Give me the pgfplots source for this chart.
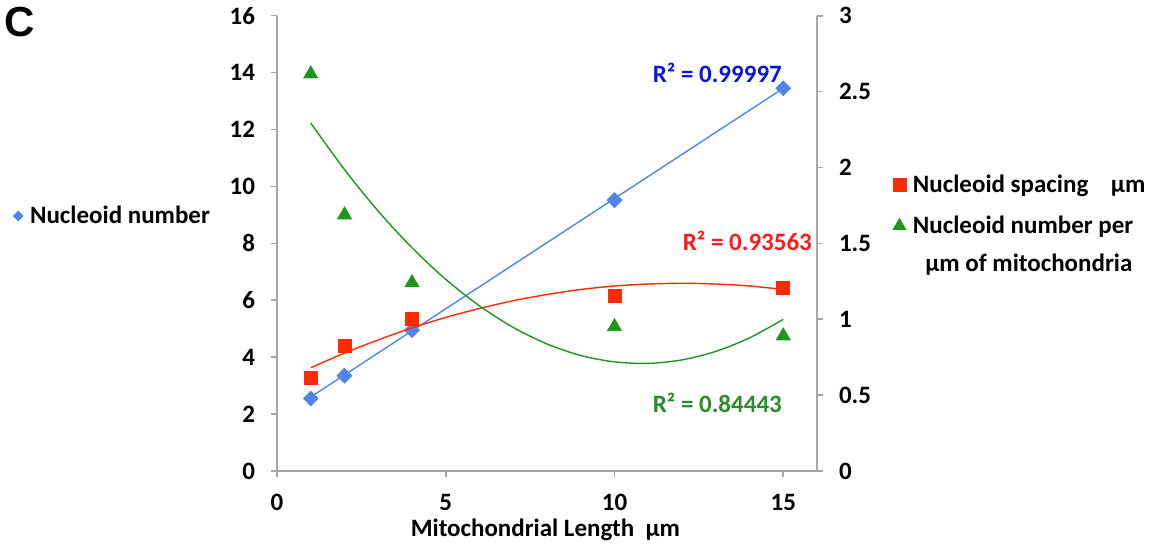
\documentclass[border=0pt]{standalone}
\usepackage{pgfplots}
\pgfplotsset{compat=1.18}
\usepackage{fontspec}
\setmainfont{Carlito}
\newfontfamily\arialfont{Liberation Sans}

\definecolor{nblue}{HTML}{4F86EC}
\definecolor{nred}{HTML}{FF2A00}
\definecolor{ngreen}{HTML}{1E961E}
\definecolor{axgray}{HTML}{A6A6A6}
\definecolor{rblue}{HTML}{0A14E0}
\definecolor{rred}{HTML}{FF1A1A}
\definecolor{rgreen}{HTML}{2A8C2A}

\pgfplotsset{
  base/.style={
    at={(0,0)}, anchor=south west, scale only axis,
    width=270pt, height=227.65pt,
    xmin=0, xmax=16, clip=false,
    axis line style={axgray, line width=0.8pt},
    tick style={axgray, line width=0.8pt},
    tick align=outside, major tick length=3pt,
    font=\fontsize{12.5}{15}\selectfont\bfseries,
    /pgf/number format/assume math mode=true,
    legend cell align=left,
    legend style={draw=none, fill=none, inner sep=0pt, outer sep=0pt,
      column sep=3.5pt, row sep=10pt,
      nodes={inner sep=0pt},
      font=\fontsize{12.5}{15}\selectfont\bfseries},
    legend image code/.code={\draw[#1] plot coordinates {(0pt,0pt)};},
  },
}

\begin{document}
\begin{tikzpicture}
\path[use as bounding box] (-138.5pt,-37.5pt) rectangle (437.5pt,235.5pt);

% left axis: nucleoid number
\begin{axis}[base,
  ymin=0, ymax=16, ytick={0,2,4,6,8,10,12,14,16},
  xtick={0,5,10,15},
  axis y line*=left, axis x line*=bottom,
  yticklabel style={xshift=-4.5pt},
  xticklabel style={yshift=-5pt},
  xlabel={Mitochondrial Length\ \ µm},
  xlabel style={at={(axis description cs:0.497,0)}, anchor=center, yshift=-29.5pt},
  legend style={at={(-0.488,0.56)}, anchor=west},
]
\addplot[only marks, mark=square*, mark size=2.6pt,
  mark options={rotate=45, fill=nblue, draw=nblue},
  legend image post style={mark size=1.7pt}]
  coordinates {(1,2.55) (2,3.35) (4,4.95) (10,9.52) (15,13.45)};
\addlegendentry{Nucleoid number}
\addplot[nblue, line width=0.7pt, forget plot] coordinates {(1,2.6) (15,13.45)};
\node[rblue, anchor=east, inner sep=0pt] at (axis cs:14.97,13.98) {R² = 0.99997};
\node[anchor=west, inner sep=0pt, font=\fontsize{21}{21}\selectfont\arialfont\bfseries]
  at (axis cs:-8.1,15.78) {C};
\end{axis}

% right axis: spacing and number per um
\begin{axis}[base,
  ymin=0, ymax=3, ytick={0,0.5,1,1.5,2,2.5,3},
  axis y line*=right, axis x line=none,
  yticklabel style={xshift=4.5pt},
  legend style={at={(1.1407,0.583)}, anchor=west},
]
\addplot[only marks, mark=square*, mark size=3.25pt,
  mark options={fill=nred, draw=nred}]
  coordinates {(1,0.611) (2,0.826) (4,1.0) (10,1.153) (15,1.204)};
\addlegendentry{Nucleoid spacing\ \ \ \ µm}
\addplot[only marks, mark=triangle*, mark size=4pt,
  mark options={fill=ngreen, draw=ngreen},
  legend image post style={mark size=3.6pt}]
  coordinates {(1,2.616) (2,1.687) (4,1.24) (10,0.951) (15,0.89)};
\addlegendentry{Nucleoid number per}
\addplot[nred, line width=0.7pt, smooth, forget plot] coordinates {
  (1,0.680) (2,0.777) (3,0.864) (4,0.943) (5,1.012) (6,1.071) (7,1.122) (8,1.163)
  (9,1.196) (10,1.219) (11,1.232) (12,1.237) (13,1.232) (14,1.219) (15,1.196)};
\addplot[ngreen, line width=0.7pt, smooth, forget plot] coordinates {
  (1,2.293) (2,1.986) (3,1.712) (4,1.471) (5,1.263) (6,1.088) (7,0.946) (8,0.837)
  (9,0.761) (10,0.719) (11,0.709) (12,0.732) (13,0.788) (14,0.877) (15,0.999)};
\node[rred, anchor=east, inner sep=0pt] at (axis cs:15.86,1.515) {R² = 0.93563};
\node[rgreen, anchor=east, inner sep=0pt] at (axis cs:14.97,0.448) {R² = 0.84443};
\node[anchor=west, inner sep=0pt] at (axis cs:19.2,1.357) {µm of mitochondria};
\end{axis}
\end{tikzpicture}
\end{document}
